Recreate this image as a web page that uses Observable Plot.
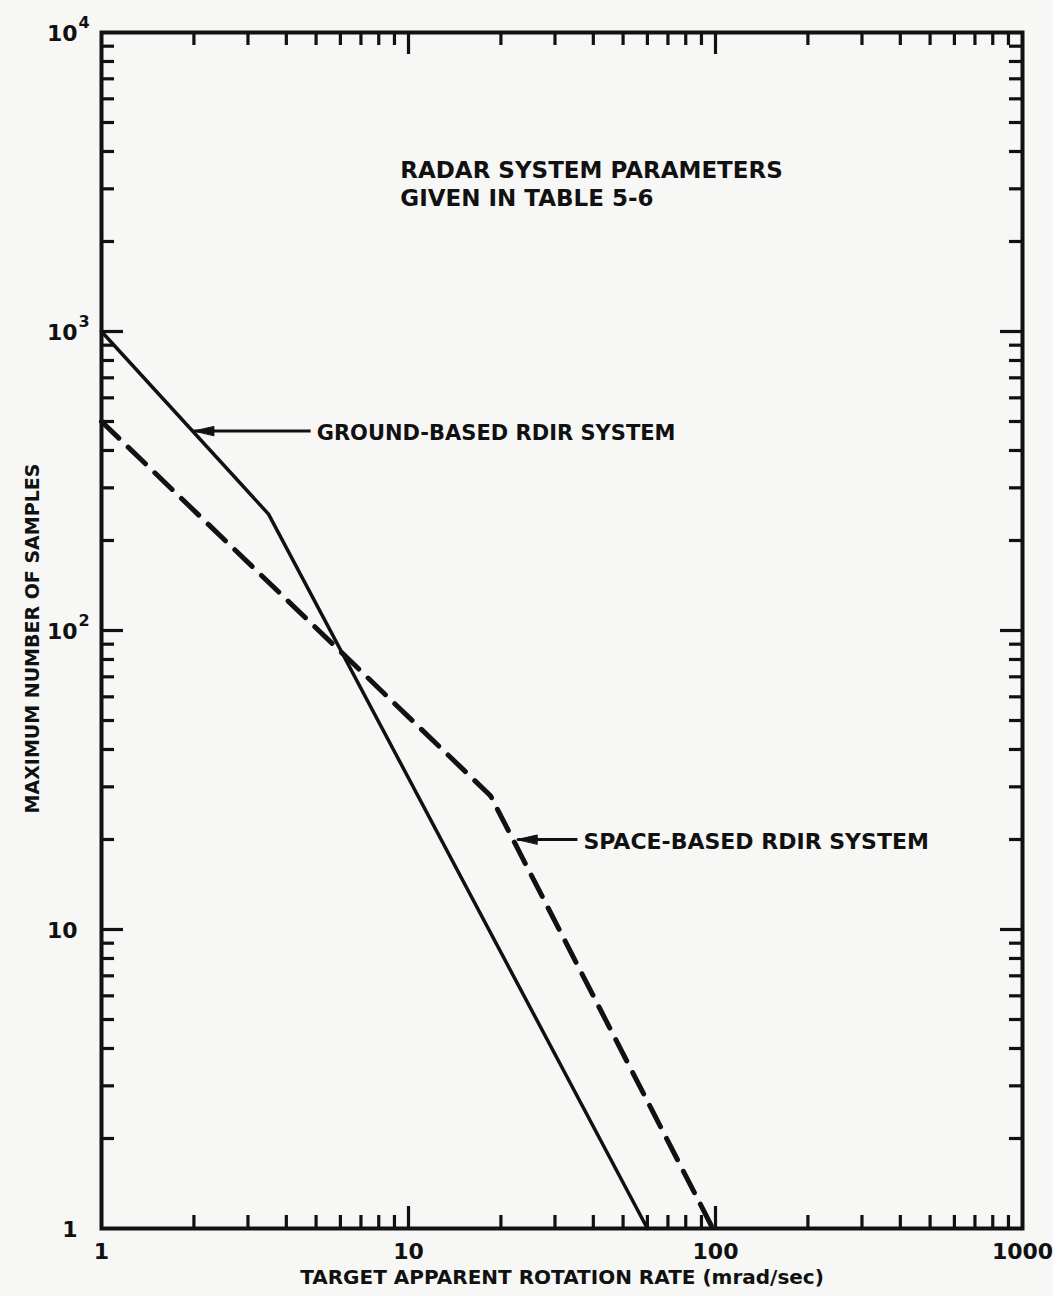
<!DOCTYPE html>
<html>
<head>
<meta charset="utf-8">
<script src="https://cdn.jsdelivr.net/npm/d3@7"></script>
<script src="https://cdn.jsdelivr.net/npm/@observablehq/plot@0.6"></script>
<style>
  html, body { margin: 0; padding: 0; background: #f7f7f5; }
  #chart svg { display: block; }
</style>
</head>
<body>
<div id="chart"></div>
<script>
// ---- data ----
const groundX = [1, 3.5, 60];
const groundY = [1000, 245, 1];
const spaceX = [1, 18.5, 98];
const spaceY = [500, 28, 1];

const xTickValues = [1, 10, 100, 1000];
const xTickLabels = ["1", "10", "100", "1000"];
const yTickValues = [1, 10, 100, 1000, 10000];
const yTickBase = ["1", "10", "10", "10", "10"];
const yTickExp = ["", "", "2", "3", "4"];

const xMajor = [10, 100];
const xMinor = [2, 3, 4, 5, 6, 7, 8, 9, 20, 30, 40, 50, 60, 70, 80, 90, 200, 300, 400, 500, 600, 700, 800, 900];
const yMajor = [10, 100, 1000];
const yMinor = [2, 3, 4, 5, 6, 7, 8, 9, 20, 30, 40, 50, 60, 70, 80, 90, 200, 300, 400, 500, 600, 700, 800, 900, 2000, 3000, 4000, 5000, 6000, 7000, 8000, 9000];

const noteLines = ["RADAR SYSTEM PARAMETERS", "GIVEN IN TABLE 5-6"];
const noteX = [9.4, 9.4];
const noteY = [3450, 2780];

const arrowLabels = ["GROUND-BASED RDIR SYSTEM", "SPACE-BASED RDIR SYSTEM"];
const arrowTipX = [2.0, 22.6];
const arrowTailX = [4.8, 35.5];
const arrowY = [465, 20];

const xTitle = "TARGET APPARENT ROTATION RATE (mrad/sec)";
const yTitle = "MAXIMUM NUMBER OF SAMPLES";

// ---- build ----
const W = 1053, H = 1296;
const mL = 101, mR = 31, mT = 32, mB = 68;
const PW = W - mL - mR, PH = H - mT - mB;
const FONT = "DejaVu Sans, sans-serif";
const INK = "#111";

const ground = groundX.map((x, i) => ({x, y: groundY[i]}));
const space = spaceX.map((x, i) => ({x, y: spaceY[i]}));
const arrows = arrowLabels.map((t, i) => ({t, x1: arrowTailX[i], x2: arrowTipX[i], y: arrowY[i], fs: i === 0 ? 21 : 22}));
const notes = noteLines.map((t, i) => ({t, x: noteX[i], y: noteY[i]}));
const xl = xTickValues.map((v, i) => ({v, t: xTickLabels[i]}));
const yl = yTickValues.map((v, i) => ({v, b: yTickBase[i], e: yTickExp[i]}));

const headShape = {
  draw(context, l, r) {
    context.moveTo(0, 0);
    context.lineTo(-4.5, -l);
    context.lineTo(4.5, -l);
    context.closePath();
  }
};

const MAJ = 22, MIN = 13;
const tk = {strokeWidth: 3.2, stroke: INK};

const chart = Plot.plot({
  width: W, height: H,
  marginLeft: mL, marginRight: mR, marginTop: mT, marginBottom: mB,
  style: {background: "transparent", fontFamily: FONT, color: INK},
  x: {type: "log", domain: [1, 1000], axis: null},
  y: {type: "log", domain: [1, 10000], axis: null},
  marks: [
    // inward ticks: bottom
    Plot.tickX(xMajor, {x: d => d, insetTop: PH - MAJ, ...tk}),
    Plot.tickX(xMinor, {x: d => d, insetTop: PH - MIN, ...tk}),
    // top
    Plot.tickX(xMajor, {x: d => d, insetBottom: PH - MAJ, ...tk}),
    Plot.tickX(xMinor, {x: d => d, insetBottom: PH - MIN, ...tk}),
    // left
    Plot.tickY(yMajor, {y: d => d, insetRight: PW - MAJ, ...tk}),
    Plot.tickY(yMinor, {y: d => d, insetRight: PW - MIN, ...tk}),
    // right
    Plot.tickY(yMajor, {y: d => d, insetLeft: PW - MAJ, ...tk}),
    Plot.tickY(yMinor, {y: d => d, insetLeft: PW - MIN, ...tk}),
    Plot.frame({stroke: INK, strokeWidth: 4}),
    // curves
    Plot.line(ground, {x: "x", y: "y", stroke: INK, strokeWidth: 3.5, strokeLinejoin: "round"}),
    Plot.line(space, {x: "x", y: "y", stroke: INK, strokeWidth: 5, strokeDasharray: "24,13", strokeLinejoin: "round"}),
    // arrows
    Plot.link(arrows, {x1: "x1", x2: "x2", y1: "y", y2: "y", stroke: INK, strokeWidth: 3}),
    Plot.vector(arrows, {x: "x2", y: "y", rotate: 90, length: 20, anchor: "start", shape: headShape, fill: INK, stroke: INK, strokeWidth: 1}),
    Plot.text(arrows, {x: "x1", y: "y", text: "t", textAnchor: "start", dx: 6, dy: 2, fontSize: d => d.fs, fontWeight: "bold", fill: INK}),
    // note
    Plot.text(notes, {x: "x", y: "y", text: "t", textAnchor: "start", fontSize: 23, fontWeight: "bold", fill: INK}),
    // tick labels
    Plot.text(xl, {x: "v", frameAnchor: "bottom", text: "t", dy: 30, fontSize: 22, fontWeight: "bold", fill: INK}),
    Plot.text(yl, {y: "v", frameAnchor: "left", text: "b", textAnchor: "end", dx: -24, dy: 1, fontSize: 22, fontWeight: "bold", fill: INK}),
    Plot.text(yl, {y: "v", frameAnchor: "left", text: "e", textAnchor: "start", dx: -23, dy: -10, fontSize: 16, fontWeight: "bold", fill: INK}),
    // axis titles
    Plot.text([xTitle], {frameAnchor: "bottom", text: d => d, dy: 55, fontSize: 20, fontWeight: "bold", fill: INK}),
    Plot.text([yTitle], {frameAnchor: "left", text: d => d, rotate: -90, textAnchor: "middle", dx: -69, dy: 8, fontSize: 19, fontWeight: "bold", fill: INK})
  ]
});
document.getElementById("chart").appendChild(chart);
</script>
</body>
</html>
